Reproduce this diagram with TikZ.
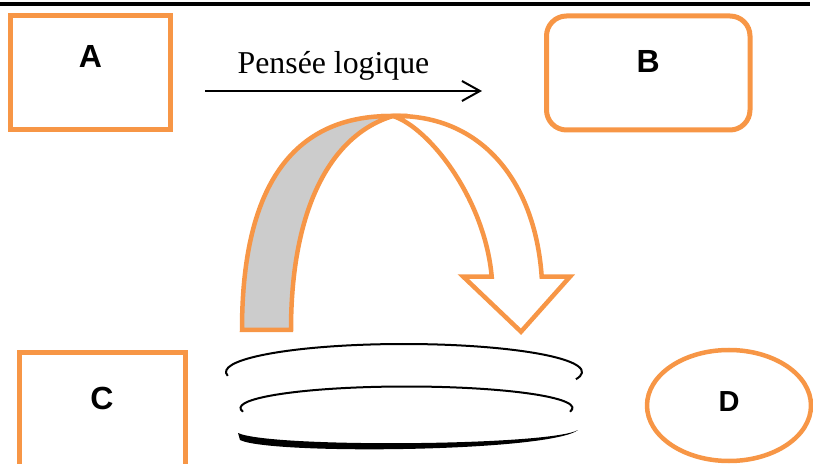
\documentclass[tikz,border=0pt]{standalone}
\usepackage{fontspec}
\setmainfont{Liberation Serif}
\newfontfamily\arialfont{Liberation Sans}
\usepackage{tikz}
\usetikzlibrary{shapes,arrows.meta,positioning}
\definecolor{accentorange}{HTML}{F79646}
\definecolor{bandgray}{RGB}{204,204,204}

\begin{document}
\begin{tikzpicture}[x=0.5pt, y=-0.5pt,
    letterbox/.style={draw=accentorange, line width=2.5pt, inner ysep=0pt, anchor=north,
      font=\arialfont\bfseries\fontsize{16pt}{18pt}\selectfont},
    band/.style={draw=accentorange, line width=2.25pt, line join=miter},
    coil/.style={draw=black, line width=1pt}]
    \useasboundingbox (0,0) rectangle (813,464);
    \draw[line width=2pt] (0,4) -- (810,4);
    \node (A) [letterbox, minimum width=80pt, text height=25.8pt, text depth=31.2pt] at (90.5,13.5) {A};
    \node (B) [letterbox, rounded corners=10pt, minimum width=101.75pt, text height=28.1pt, text depth=28.9pt] at (648.25,13.5) {B};
    \node (C) [letterbox, minimum width=83pt, text height=28.5pt, text depth=36.5pt] at (102,350) {C};
    \node (D) [ellipse, draw=accentorange, line width=2.25pt, inner sep=0pt, minimum width=82pt, minimum height=55.5pt,
      text depth=3.8pt, font=\arialfont\bfseries\fontsize{14.5pt}{16pt}\selectfont] at (729,405.5) {D};
    \coordinate (logic start) at (205,91);
    \coordinate (logic end) at (482,91);
    \draw[line width=1pt, -{Straight Barb[length=9pt, width=10pt]}] (logic start) -- node[above=5pt, inner sep=0pt, xshift=-5pt, font=\fontsize{15.9pt}{18pt}\selectfont] {Pensée logique} (logic end);
    \filldraw[band, fill=bandgray] (242,330) .. controls (242,190) and (290,115) .. (393,116)
      .. controls (330,135) and (291,210) .. (291,330) -- cycle;
    \filldraw[band, fill=white] (393,116) .. controls (480,114) and (535,180) .. (541.7,276.7)
      -- (570,276.7) -- (521,331.7) -- (463.3,276.7) -- (491.7,276.7)
      .. controls (485,200) and (430,128) .. (393,116) -- cycle;
    \draw[coil] ([shift={(172:178 and 28)}]404,372) arc[start angle=172, end angle=375, x radius=178, y radius=28];
    \draw[coil] ([shift={(170:166 and 21.5)}]406.5,408) arc[start angle=170, end angle=370, x radius=166, y radius=21.5];
    \fill (238,433) -- (240,440) .. controls (270,455) and (550,452) .. (578,430)
      .. controls (550,446) and (270,448) .. (238,433) -- cycle;
  \end{tikzpicture}
\end{document}
